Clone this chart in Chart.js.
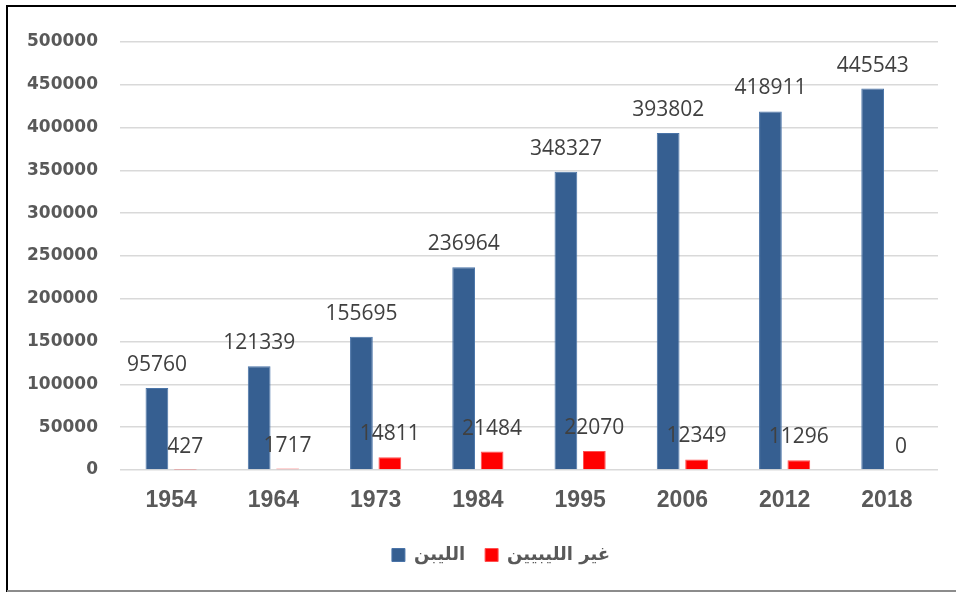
<!DOCTYPE html>
<html>
<head>
<meta charset="utf-8">
<script src="https://cdn.jsdelivr.net/npm/chart.js@4.4.0/dist/chart.umd.min.js"></script>
<style>
html,body{margin:0;padding:0;background:#fff;}
#wrap{width:956px;height:592px;position:relative;}
</style>
</head>
<body>
<div id="wrap"><canvas id="c" width="956" height="592"></canvas></div>
<script>
const categories = ['1954','1964','1973','1984','1995','2006','2012','2018'];
const libyans = [95760,121339,155695,236964,348327,393802,418911,445543];
const nonLibyans = [427,1717,14811,21484,22070,12349,11296,0];
const seriesNames = ['الليبن','غير الليبيين'];
const yTicks = [0,50000,100000,150000,200000,250000,300000,350000,400000,450000,500000];

const frame = {
  id:'frame',
  beforeDraw(chart){
    const ctx = chart.ctx;
    ctx.save();
    ctx.fillStyle='#fff';
    ctx.fillRect(0,0,chart.width,chart.height);
    ctx.strokeStyle='#000';
    ctx.lineWidth=2;
    ctx.beginPath();
    ctx.moveTo(7,592); ctx.lineTo(7,6); ctx.lineTo(956,6);
    ctx.stroke();
    ctx.strokeStyle='#8c8c8c';
    ctx.lineWidth=2;
    ctx.beginPath();
    ctx.moveTo(7,591); ctx.lineTo(956,591);
    ctx.stroke();
    ctx.restore();
  }
};

const shiftLegend = {
  id:'shiftLegend',
  afterLayout(chart){
    const lg = chart.legend;
    if (lg) { lg.left += 64; }
  }
};

const valueLabels = {
  id:'valueLabels',
  afterDatasetsDraw(chart){
    const ctx = chart.ctx;
    ctx.save();
    ctx.font = '21px "Open Sans", "Liberation Sans", sans-serif';
    ctx.fillStyle = '#404040';
    ctx.textAlign = 'center';
    ctx.textBaseline = 'alphabetic';
    chart.data.datasets.forEach((ds,i)=>{
      const meta = chart.getDatasetMeta(i);
      meta.data.forEach((bar,j)=>{
        ctx.fillText(String(ds.data[j]), bar.x, bar.y - 17);
      });
    });
    ctx.restore();
  }
};

new Chart(document.getElementById('c'), {
  type:'bar',
  data:{
    labels: categories,
    datasets:[
      {label: seriesNames[0], data: libyans, backgroundColor:'#365F91', borderColor:'#4a74a8', borderWidth:1,
       barPercentage:0.8, categoryPercentage:0.556},
      {label: seriesNames[1], data: nonLibyans, backgroundColor:'#FF0000', borderColor:'#ff5050', borderWidth:1,
       barPercentage:0.8, categoryPercentage:0.556}
    ]
  },
  options:{
    responsive:false,
    animation:false,
    devicePixelRatio:1,
    layout:{padding:{left:0,right:18,top:42,bottom:18}},
    plugins:{
      legend:{
        position:'bottom',
        labels:{
          boxWidth:13, boxHeight:13,
          padding:20,
          color:'#595959',
          font:{family:'"DejaVu Sans", sans-serif', size:18, weight:'bold'}
        }
      },
      tooltip:{enabled:false}
    },
    scales:{
      x:{
        grid:{display:false},
        border:{display:false},
        ticks:{
          color:'#595959',
          padding:9,
          font:{family:'"Liberation Sans", Arial, sans-serif', size:23, weight:'bold'}
        },
        afterFit(scale){ scale.height = 56; }
      },
      y:{
        min:0, max:500000,
        afterBuildTicks(scale){ scale.ticks = yTicks.map(v=>({value:v})); },
        grid:{color:'#d9d9d9', lineWidth:1.5, drawTicks:false},
        border:{display:false},
        ticks:{
          color:'#595959',
          padding:22,
          callback:(v)=>String(v),
          font:{family:'"DejaVu Sans", sans-serif', size:17, weight:'bold'}
        },
        afterFit(scale){ scale.width = 120; }
      }
    }
  },
  plugins:[frame, shiftLegend, valueLabels]
});
</script>
</body>
</html>
